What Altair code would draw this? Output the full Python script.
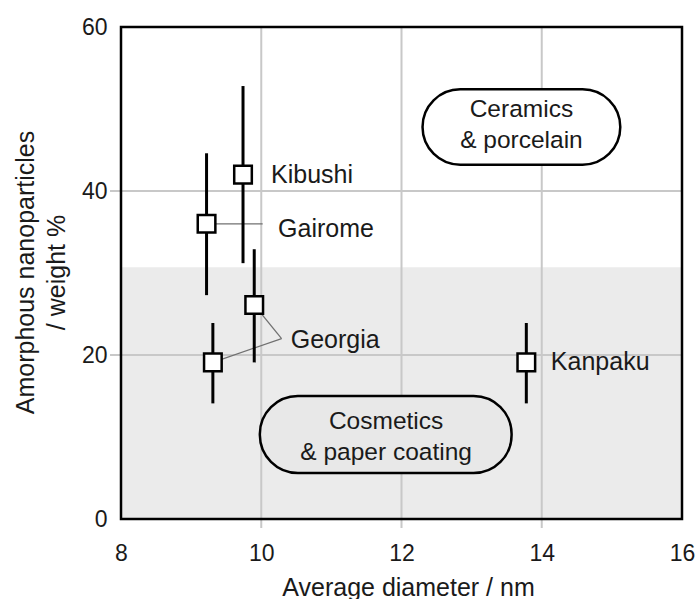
import altair as alt
import pandas as pd

# ---- data ----
x_ticks = [8, 10, 12, 14, 16]
y_ticks = [0, 20, 40, 60]

samples = ["Kibushi", "Gairome", "Georgia", "Georgia", "Kanpaku"]
diameter = [9.74, 9.22, 9.90, 9.31, 13.78]
amorphous = [42.0, 36.0, 26.1, 19.1, 19.1]
err_low = [31.2, 27.3, 19.1, 14.1, 14.1]
err_high = [52.8, 44.6, 32.9, 23.9, 23.9]

label_names = ["Kibushi", "Gairome", "Georgia", "Kanpaku"]
label_x = [10.14, 10.24, 10.42, 14.13]
label_y = [42.0, 35.4, 21.8, 19.1]

leader_x = [9.22, 10.29, 10.29]
leader_y = [36.0, 22.0, 22.0]
leader_x2 = [10.02, 9.90, 9.31]
leader_y2 = [36.0, 26.1, 19.1]

region_names = ["Ceramics\n& porcelain", "Cosmetics\n& paper coating"]
region_x = [12.30, 9.98]
region_x2 = [15.12, 13.57]
region_y = [52.4, 15.0]
region_y2 = [43.2, 5.6]
region_tx = [13.71, 11.78]
region_ty = [49.9, 11.8]   # first text line of each region

band_low = [0.0]
band_high = [30.7]
band_x = [8]
band_x2 = [16]

# ---- tables ----
pts = pd.DataFrame({"sample": samples, "d": diameter, "a": amorphous,
                    "lo": err_low, "hi": err_high})
labels = pd.DataFrame({"name": label_names, "x": label_x, "y": label_y})
leaders = pd.DataFrame({"x": leader_x, "y": leader_y, "x2": leader_x2, "y2": leader_y2})
regions = pd.DataFrame({"name": region_names, "x": region_x, "x2": region_x2,
                        "y": region_y, "y2": region_y2,
                        "tx": region_tx, "ty": region_ty})
band = pd.DataFrame({"x": band_x, "x2": band_x2, "y": band_low, "y2": band_high})
vgrid = pd.DataFrame({"v": x_ticks[1:-1]})
hgrid = pd.DataFrame({"v": y_ticks[1:-1]})

FONT = "Liberation Sans"
TXT = "#1a1a1a"

xs = alt.Scale(domain=[8, 16], nice=False, zero=False)
ys = alt.Scale(domain=[0, 60], nice=False, zero=False)
xaxis = alt.Axis(values=x_ticks, title="Average diameter / nm", labelPadding=23,
                 titleX=287, titleY=76, titleBaseline="alphabetic",
                 labelFlush=False, labelOverlap=False)
yaxis = alt.Axis(values=y_ticks,
                 title=["Amorphous nanoparticles", "\u00a0\u00a0\u00a0/ weight %"],
                 labelPadding=14, titleX=-108, titleY=245, titleBaseline="top",
                 titleAngle=270, titleLineHeight=31, labelFlush=False,
                 labelOverlap=False)


def X(f, **kw):
    return alt.X(f, scale=xs, axis=xaxis, **kw)


def Y(f, **kw):
    return alt.Y(f, scale=ys, axis=yaxis, **kw)


band_layer = alt.Chart(band).mark_rect(color="#ebebeb").encode(
    x=X("x:Q"), x2="x2:Q", y=Y("y:Q"), y2="y2:Q")

vgrid_layer = alt.Chart(vgrid).mark_rule(color="#c8c8c8", strokeWidth=2).encode(
    x=X("v:Q"), y=alt.value(0), y2=alt.value(501))
hgrid_layer = alt.Chart(hgrid).mark_rule(color="#c8c8c8", strokeWidth=2).encode(
    y=Y("v:Q"), x=alt.value(-11), x2=alt.value(561))

region_layer = alt.Chart(regions).mark_rect(
    cornerRadius=38, stroke="black", strokeWidth=2.5).encode(
    x=X("x:Q"), x2="x2:Q", y=Y("y:Q"), y2="y2:Q",
    fill=alt.Fill("name:N", legend=None,
                  scale=alt.Scale(domain=region_names, range=["white", "#e8e8e8"])))

region_text = alt.Chart(regions).mark_text(
    align="center", baseline="middle", lineBreak="\n", lineHeight=31,
    fontSize=24.5, font=FONT, color=TXT).encode(
    x=X("tx:Q"), y=Y("ty:Q"), text="name:N")

leader_layer = alt.Chart(leaders).mark_rule(color="#707070", strokeWidth=1.2).encode(
    x=X("x:Q"), y=Y("y:Q"), x2="x2:Q", y2="y2:Q")

err_layer = alt.Chart(pts).mark_rule(color="black", strokeWidth=3).encode(
    x=X("d:Q"), y=Y("lo:Q"), y2="hi:Q")

sq_layer = alt.Chart(pts).mark_point(
    shape="square", fill="white", stroke="black", strokeWidth=2.5,
    size=310, opacity=1, filled=True).encode(
    x=X("d:Q"), y=Y("a:Q"), fill=alt.value("white"))

label_layer = alt.Chart(labels).mark_text(
    align="left", baseline="middle", fontSize=25, font=FONT, color=TXT).encode(
    x=X("x:Q"), y=Y("y:Q"), text="name:N")

frame_layer = alt.Chart(band).mark_rect(
    fillOpacity=0, stroke="black", strokeWidth=2.5).encode(
    x=X("x:Q"), x2="x2:Q", y=alt.value(0), y2=alt.value(492))

chart = alt.layer(
    band_layer, vgrid_layer, hgrid_layer, region_layer, region_text,
    leader_layer, err_layer, sq_layer, label_layer, frame_layer
).properties(
    width=561, height=492,
    autosize=alt.AutoSizeParams(type="none"),
    padding={"left": 121, "top": 27, "right": 14, "bottom": 80},
    background="white",
).configure_view(stroke=None).configure_axis(
    grid=False, ticks=False, tickSize=0, domain=False,
    labelFont=FONT, labelFontSize=23, labelColor=TXT,
    titleFont=FONT, titleFontSize=25, titleFontWeight="normal", titleColor=TXT,
)

chart.save("out.html", embed_options={"renderer": "svg", "actions": False})
